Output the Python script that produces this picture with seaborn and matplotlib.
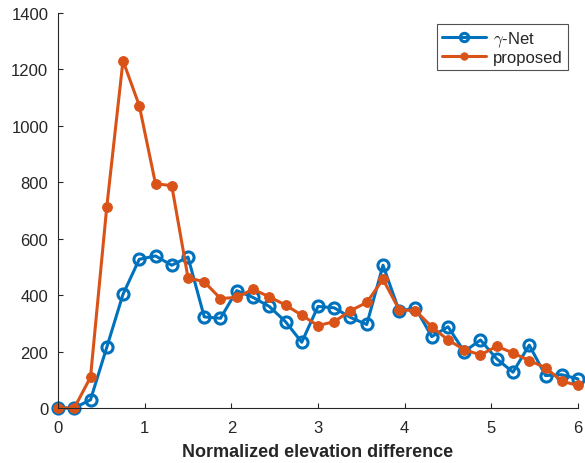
import numpy as np
import pandas as pd
import matplotlib
matplotlib.use("Agg")
import matplotlib.pyplot as plt
import seaborn as sns

# Histogram of normalized elevation differences for the two methods
x_values = np.linspace(0, 6, 33)
gamma_net = [0, 0, 29, 215, 403, 527, 539, 506, 535, 323, 318, 416,
             392, 360, 306, 233, 360, 355, 321, 296, 506, 343, 355,
             253, 288, 200, 241, 174, 127, 223, 115, 118, 103]
proposed = [0, 0, 109, 712, 1231, 1072, 795, 788, 462, 447, 388, 392,
            421, 394, 365, 329, 292, 306, 345, 374, 456, 348, 345,
            288, 241, 207, 188, 219, 195, 168, 143, 95, 80]
series_names = [r"$\gamma$-Net", "proposed"]
x_ticks = [0, 1, 2, 3, 4, 5, 6]
y_ticks = [0, 200, 400, 600, 800, 1000, 1200, 1400]

df = pd.DataFrame({
    "x": np.concatenate([x_values, x_values]),
    "y": gamma_net + proposed,
    "method": [series_names[0]] * len(x_values) + [series_names[1]] * len(x_values),
})

sns.set_style("ticks")
plt.rcParams["font.family"] = ["Liberation Sans", "DejaVu Sans"]
plt.rcParams["mathtext.fontset"] = "cm"
plt.rcParams["xtick.direction"] = "in"
plt.rcParams["ytick.direction"] = "in"

ink = "#262626"
blue = "#0072BD"
orange = "#D95319"

fig = plt.figure(figsize=(5.85, 4.64), dpi=100)
ax = fig.add_axes([58 / 585, 1 - 409 / 464, 520 / 585, 395 / 464])

sns.lineplot(data=df[df["method"] == series_names[0]], x="x", y="y",
             ax=ax, color=blue, linewidth=2.2, marker="o", markersize=8,
             markerfacecolor="none", markeredgecolor=blue, markeredgewidth=2.2,
             label=series_names[0], clip_on=False)
sns.lineplot(data=df[df["method"] == series_names[1]], x="x", y="y",
             ax=ax, color=orange, linewidth=2.2, marker="o", markersize=7,
             markerfacecolor=orange, markeredgecolor=orange,
             label=series_names[1], clip_on=False)

ax.set_xlim(0, 6)
ax.set_ylim(0, 1400)
ax.set_xticks(x_ticks)
ax.set_yticks(y_ticks)
ax.tick_params(axis="both", labelsize=12, colors=ink, length=3.6, width=0.8)
ax.tick_params(axis="x", pad=8.5)
ax.tick_params(axis="y", pad=7)
for side in ["top", "right"]:
    ax.spines[side].set_visible(False)
for side in ["left", "bottom"]:
    ax.spines[side].set_color(ink)
    ax.spines[side].set_linewidth(0.8)

ax.set_xlabel("Normalized elevation difference", fontsize=13,
              fontweight="bold", color=ink, labelpad=6)
ax.set_ylabel("")

leg = ax.legend(loc="upper right", bbox_to_anchor=(510 / 520, 384 / 395),
                fontsize=12, frameon=True, fancybox=False,
                handlelength=2.6, borderpad=0.3, labelspacing=0.1,
                handletextpad=0.45, borderaxespad=0, markerscale=0.75)
leg.get_frame().set_edgecolor(ink)
leg.get_frame().set_linewidth(0.8)

fig.savefig("out.png", dpi=100)
